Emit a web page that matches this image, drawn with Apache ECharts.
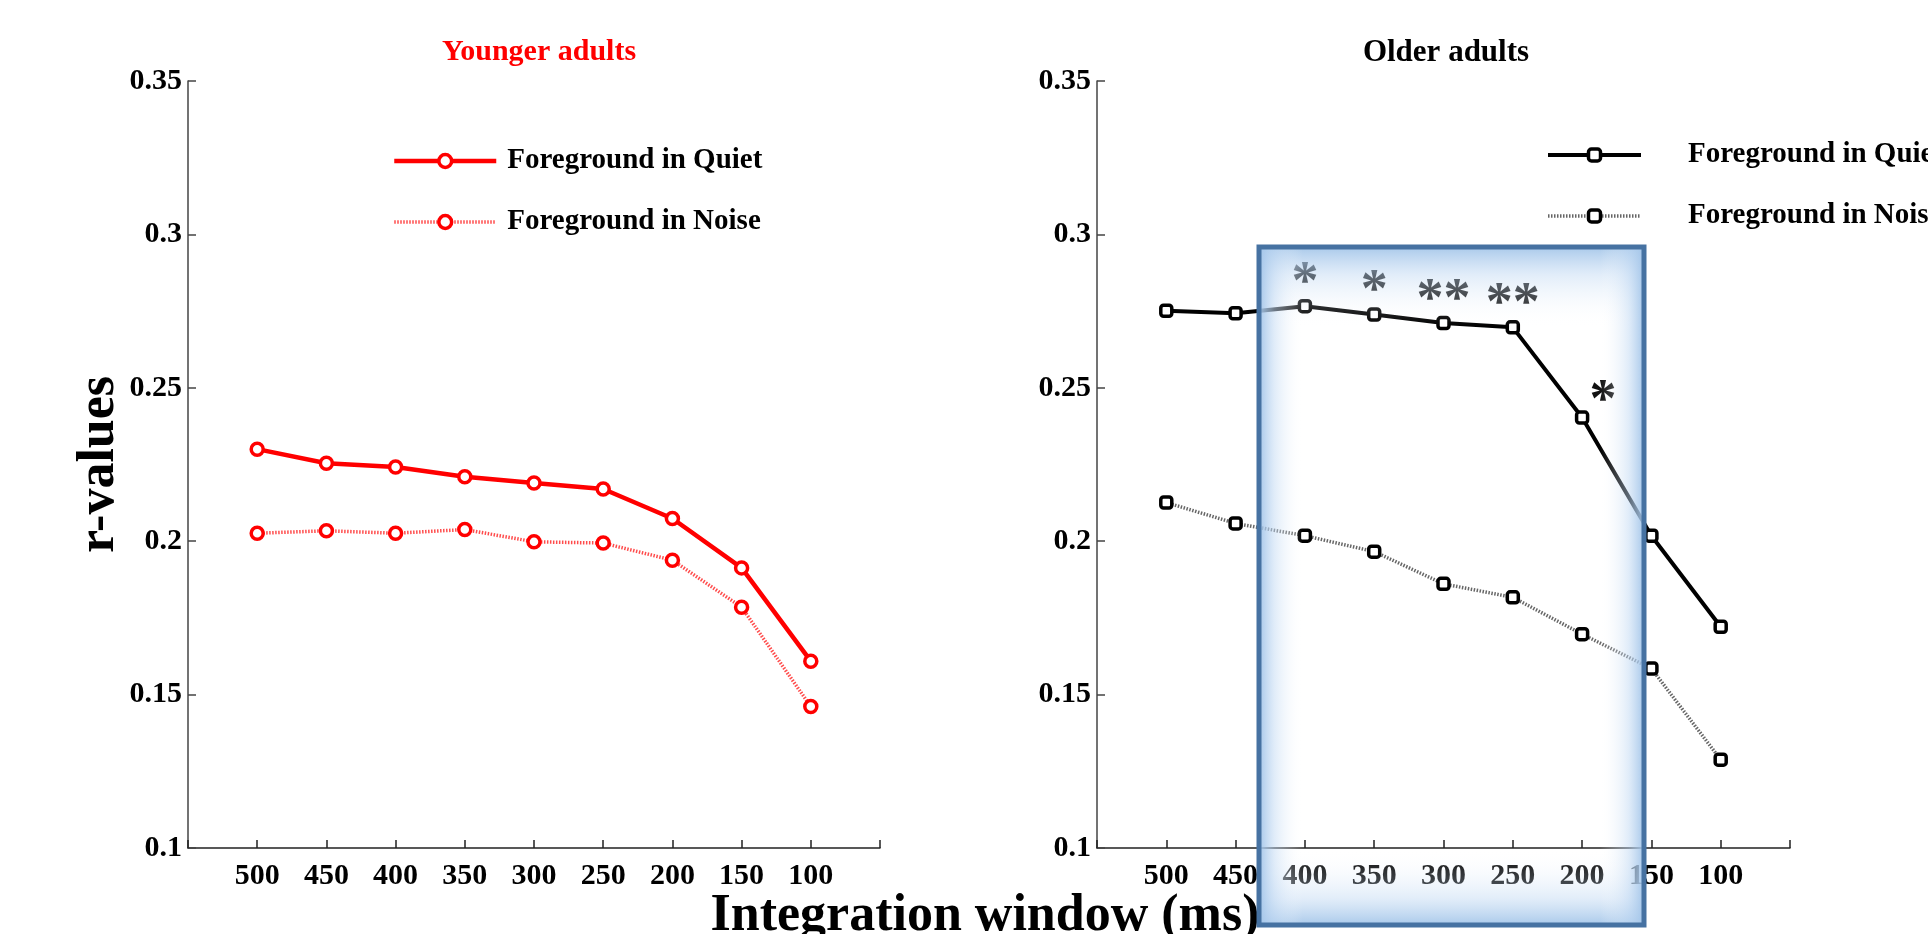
<!DOCTYPE html>
<html>
<head>
<meta charset="utf-8">
<script src="https://cdn.jsdelivr.net/npm/echarts@6/dist/echarts.min.js"></script>
<style>
html,body{margin:0;padding:0;background:#fff;}
#chart{width:1928px;height:934px;}
</style>
</head>
<body>
<div id="chart"></div>
<script>
// ---- data ----
const windows = ['500', '450', '400', '350', '300', '250', '200', '150', '100'];
const youngQuiet = [0.2300, 0.2254, 0.2242, 0.2210, 0.2190, 0.2170, 0.2074, 0.1913, 0.1609];
const youngNoise = [0.2026, 0.2034, 0.2026, 0.2038, 0.1998, 0.1994, 0.1938, 0.1785, 0.1461];
const olderQuiet = [0.2751, 0.2743, 0.2766, 0.2739, 0.2711, 0.2697, 0.2403, 0.2018, 0.1721];
const olderNoise = [0.2126, 0.2058, 0.2018, 0.1966, 0.1861, 0.1817, 0.1697, 0.1585, 0.1288];
const olderSig = ['', '', '*', '*', '**', '**', '*', '', ''];
const yTicks = ['0.1', '0.15', '0.2', '0.25', '0.3', '0.35'];
const seriesNames = ['Foreground in Quiet', 'Foreground in Noise'];
const panelTitles = ['Younger adults', 'Older adults'];

const FONT = "'Liberation Serif', 'Times New Roman', serif";
const chart = echarts.init(document.getElementById('chart'), null, {renderer: 'canvas'});

const axisCats = [' ', ...windows, '  '];
function pairs(vals) { return windows.map((w, i) => [w, vals[i]]); }

function xAxis(gi) {
  return {
    type: 'category', gridIndex: gi, data: axisCats, boundaryGap: false,
    axisLine: {show: true, lineStyle: {color: '#222', width: 1.5}},
    axisTick: {show: true, inside: true, length: 8, interval: 0, lineStyle: {color: '#222', width: 1.5}},
    axisLabel: {interval: 0, margin: 13, color: '#000', fontFamily: FONT, fontWeight: 'bold', fontSize: 30},
    splitLine: {show: false}
  };
}
function yAxis(gi, withName) {
  const o = {
    type: 'value', gridIndex: gi, min: 0.1, max: 0.35, interval: 0.05,
    axisLine: {show: true, lineStyle: {color: '#444', width: 1.5}},
    axisTick: {show: true, inside: true, length: 8, lineStyle: {color: '#444', width: 1.5}},
    axisLabel: {margin: 6, color: '#000', fontFamily: FONT, fontWeight: 'bold', fontSize: 30,
      formatter: v => yTicks[Math.round((v - 0.1) / 0.05)]},
    splitLine: {show: false}
  };
  if (withName) {
    Object.assign(o, {
      name: 'r-values', nameLocation: 'middle', nameRotate: 90, nameGap: 56,
      nameTextStyle: {color: '#000', fontFamily: FONT, fontWeight: 'bold', fontSize: 52}
    });
  }
  return o;
}

const sigData = olderSig.map((s, i) => s ? {
  coord: [windows[i], olderQuiet[i]], value: s,
  label: {offset: i === 6 ? [21, -16] : [0, -22]}
} : null).filter(Boolean);

const RED = '#ff0000';
const quietRed = {color: RED, width: 4.5};
const noiseRed = {color: 'rgba(255,0,0,0.7)', width: 3.5, type: [1.5, 1.5]};
const quietBlack = {color: '#000', width: 4};
const noiseBlack = {color: 'rgba(0,0,0,0.6)', width: 3.5, type: [1.5, 1.5]};
const redMarker = {color: '#fff', borderColor: RED, borderWidth: 3.5};
const blackMarker = {color: '#fff', borderColor: '#000', borderWidth: 3.5};

const legendText = {color: '#000', fontFamily: FONT, fontWeight: 'bold', fontSize: 29, lineHeight: 30};

const option = {
  backgroundColor: '#fff',
  animation: false,
  title: [
    {text: panelTitles[0], left: 534, top: 32, textAlign: 'center',
      textStyle: {color: RED, fontFamily: FONT, fontWeight: 'bold', fontSize: 30}},
    {text: panelTitles[1], left: 1441, top: 32, textAlign: 'center',
      textStyle: {color: '#000', fontFamily: FONT, fontWeight: 'bold', fontSize: 31}},
    {text: 'Integration window (ms)', left: 980, top: 886, textAlign: 'center',
      textStyle: {color: '#000', fontFamily: FONT, fontWeight: 'bold', fontSize: 52}}
  ],
  legend: [
    {data: [{name: seriesNames[0], lineStyle: quietRed, itemStyle: redMarker},
            {name: seriesNames[1], lineStyle: noiseRed, itemStyle: redMarker}],
      orient: 'vertical', left: 392, top: 146, padding: 0,
      itemWidth: 102, itemHeight: 16, itemGap: 31, selectedMode: false, formatter: n => n,
      textStyle: Object.assign({padding: [0, 0, 0, 6]}, legendText)},
    {data: [{name: seriesNames[0] + ' ', lineStyle: quietBlack, itemStyle: blackMarker},
            {name: seriesNames[1] + ' ', lineStyle: noiseBlack, itemStyle: blackMarker}],
      orient: 'vertical', left: 1546, top: 140, padding: 0,
      itemWidth: 93, itemHeight: 15, itemGap: 31, selectedMode: false, formatter: n => n.trim(),
      textStyle: Object.assign({padding: [0, 0, 0, 42]}, legendText)}
  ],
  grid: [
    {left: 188, top: 81, width: 692, height: 767},
    {left: 1097, top: 81, width: 693, height: 767}
  ],
  xAxis: [xAxis(0), xAxis(1)],
  yAxis: [yAxis(0, true), yAxis(1, false)],
  series: [
    {name: seriesNames[0], type: 'line', xAxisIndex: 0, yAxisIndex: 0, data: pairs(youngQuiet),
      symbol: 'circle', symbolSize: 12, color: RED,
      lineStyle: quietRed, itemStyle: redMarker, z: 3},
    {name: seriesNames[1], type: 'line', xAxisIndex: 0, yAxisIndex: 0, data: pairs(youngNoise),
      symbol: 'circle', symbolSize: 12, color: RED,
      lineStyle: noiseRed, itemStyle: redMarker, z: 2},
    {name: seriesNames[0] + ' ', type: 'line', xAxisIndex: 1, yAxisIndex: 1, data: pairs(olderQuiet),
      symbol: 'roundRect', symbolSize: 11, color: '#000',
      lineStyle: quietBlack, itemStyle: blackMarker, z: 3,
      markPoint: {
        symbol: 'circle', symbolSize: 1, itemStyle: {color: 'rgba(0,0,0,0)', borderWidth: 0},
        label: {show: true, position: 'inside', formatter: p => p.value, color: '#111',
          fontFamily: FONT, fontWeight: 'bold', fontSize: 54},
        data: sigData
      }},
    {name: seriesNames[1] + ' ', type: 'line', xAxisIndex: 1, yAxisIndex: 1, data: pairs(olderNoise),
      symbol: 'roundRect', symbolSize: 11, color: '#000',
      lineStyle: noiseBlack, itemStyle: blackMarker, z: 2}
  ]
};

// highlight box (annotation overlay over the older-adults panel)
const bx = 1259, by = 247, bw = 385, bh = 678;
function grad(x, y, x2, y2, a) {
  return new echarts.graphic.LinearGradient(x, y, x2, y2, [
    {offset: 0, color: 'rgba(160,195,232,' + a + ')'},
    {offset: 0.35, color: 'rgba(190,215,242,' + (a * 0.5) + ')'},
    {offset: 1, color: 'rgba(255,255,255,0)'}]);
}
option.graphic = [
  {type: 'rect', z: 100, silent: true, shape: {x: bx, y: by, width: bw, height: 80}, style: {fill: grad(0, 0, 0, 1, 0.9)}},
  {type: 'rect', z: 100, silent: true, shape: {x: bx, y: by + bh - 76, width: bw, height: 76}, style: {fill: grad(0, 1, 0, 0, 0.9)}},
  {type: 'rect', z: 100, silent: true, shape: {x: bx, y: by, width: 44, height: bh}, style: {fill: grad(0, 0, 1, 0, 0.95)}},
  {type: 'rect', z: 100, silent: true, shape: {x: bx + bw - 44, y: by, width: 44, height: bh}, style: {fill: grad(1, 0, 0, 0, 0.95)}},
  {type: 'rect', z: 101, silent: true, shape: {x: bx, y: by, width: bw, height: bh},
    style: {fill: 'none', stroke: '#4672a2', lineWidth: 5}}
];

chart.setOption(option);
</script>
</body>
</html>
